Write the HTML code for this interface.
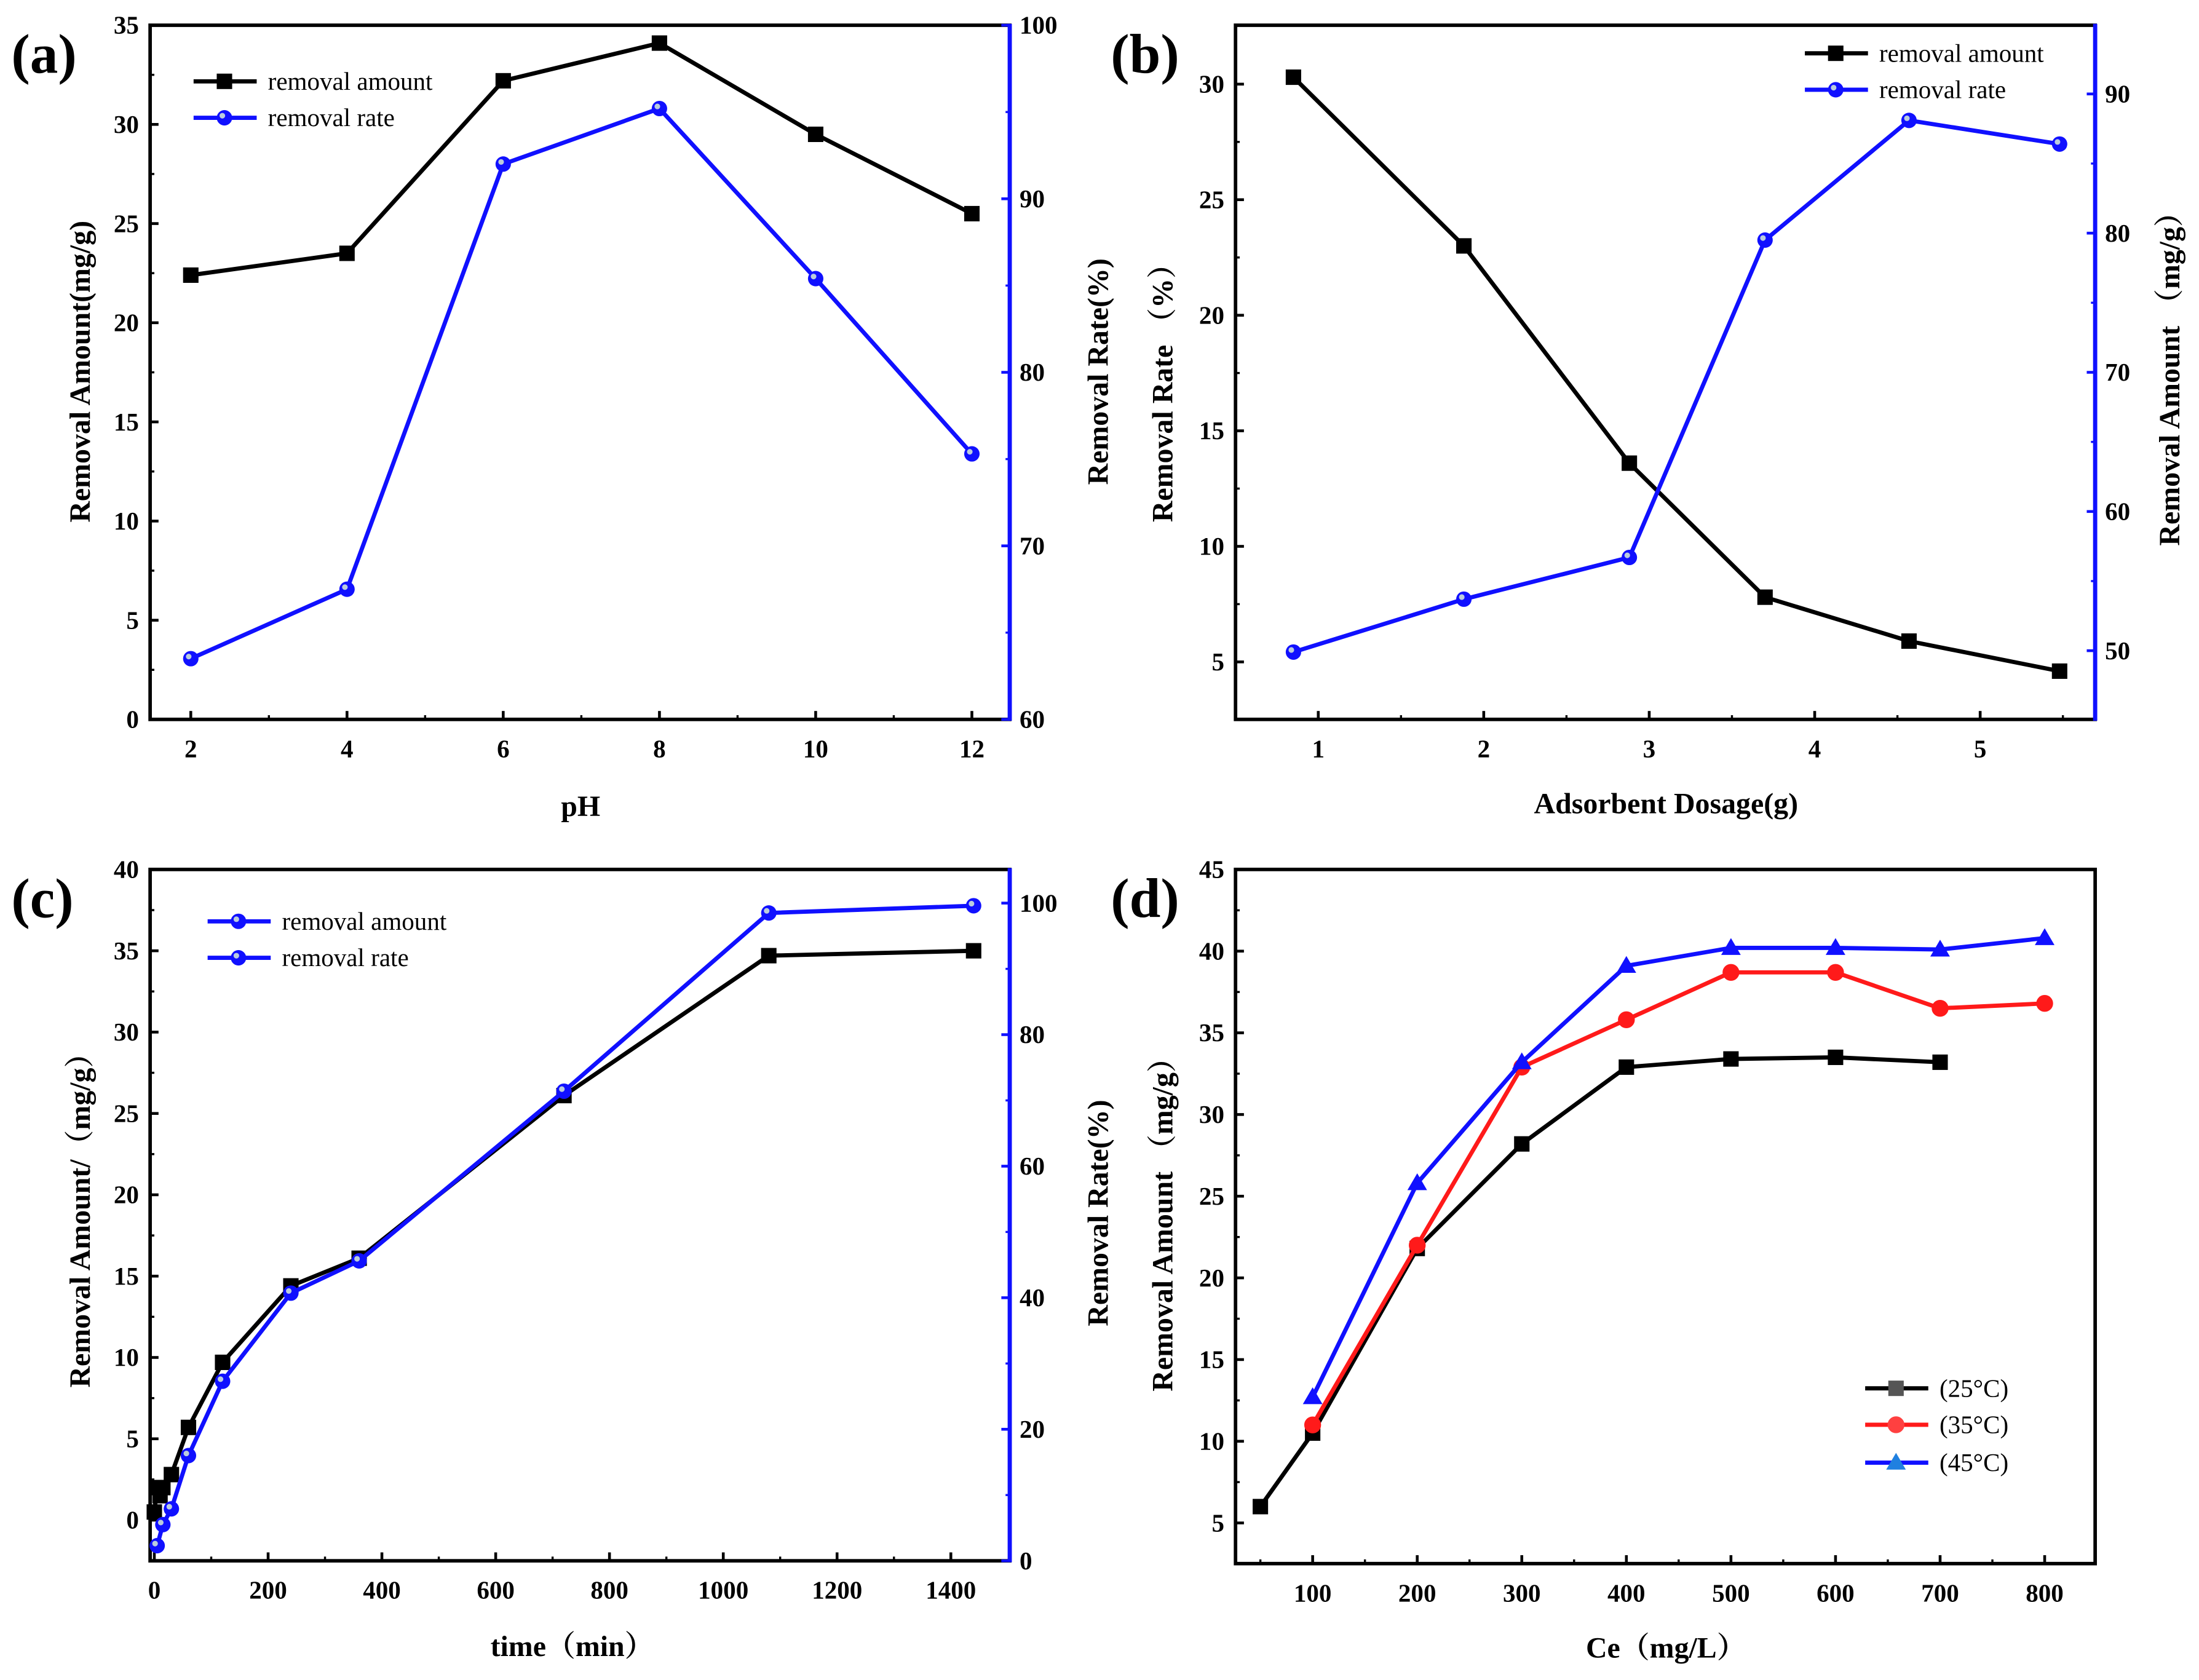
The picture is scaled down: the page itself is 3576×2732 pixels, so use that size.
<!DOCTYPE html>
<html><head><meta charset="utf-8"><style>
html,body{margin:0;padding:0;background:#fff;}
svg{display:block;font-family:"Liberation Serif","Noto Serif CJK SC",serif;}
</style></head><body>
<svg id="fig" xmlns="http://www.w3.org/2000/svg" width="3576" height="2732" viewBox="0 0 1568 1198"></svg>
<script>
// ---- Panel (a) data ----
const aX = [2,4,6,8,10,12];
const aAmount = [22.4,23.5,32.2,34.1,29.5,25.5];
const aRate = [63.5,67.5,92,95.2,85.4,75.3];
const aXTicks = [2,4,6,8,10,12];
const aYTicks = [0,5,10,15,20,25,30,35];
const aY2Ticks = [60,70,80,90,100];
// ---- Panel (b) data ----
const bX = [0.85,1.88,2.88,3.7,4.57,5.48];
const bAmount = [30.3,23,13.6,7.8,5.9,4.6];
const bRate = [49.9,53.7,56.7,79.5,88.1,86.4];
const bXTicks = [1,2,3,4,5];
const bYTicks = [5,10,15,20,25,30];
const bY2Ticks = [50,60,70,80,90];
// ---- Panel (c) data ----
const cXAmt = [0,5,10,15,30,60,120,240,360,720,1080,1440];
const cAmount = [0.5,2,1.5,2,2.8,5.7,9.7,14.4,16.1,26.1,34.7,35];
const cXRate = [5,15,30,60,120,240,360,720,1080,1440];
const cRate = [2.3,5.5,7.9,16,27.3,40.7,45.6,71.4,98.5,99.6];
const cXTicks = [0,200,400,600,800,1000,1200,1400];
const cYTicks = [0,5,10,15,20,25,30,35,40];
const cY2Ticks = [0,20,40,60,80,100];
// ---- Panel (d) data ----
const dX25 = [50,100,200,300,400,500,600,700];
const d25 = [6,10.5,21.8,28.2,32.9,33.4,33.5,33.2];
const dX35 = [100,200,300,400,500,600,700,800];
const d35 = [11,22,32.9,35.8,38.7,38.7,36.5,36.8];
const dX45 = [100,200,300,400,500,600,700,800];
const d45 = [12.7,25.8,33.2,39.1,40.2,40.2,40.1,40.8];
const dXTicks = [100,200,300,400,500,600,700,800];
const dYTicks = [5,10,15,20,25,30,35,40,45];

const svg = document.getElementById('fig');
const NS = 'http://www.w3.org/2000/svg';
function mk(tag, at, parent){const e=document.createElementNS(NS,tag);for(const k in at)e.setAttribute(k,at[k]);(parent||svg).appendChild(e);return e;}
function lin(d0,d1,p0,p1){return v=>p0+(v-d0)*(p1-p0)/(d1-d0);}

function frame(L,T,R,B,rightBlue){
  let e=mk('rect',{x:L,y:T,width:R-L,height:B-T,fill:'none',stroke:'#000','stroke-width':2.5});
  
  
  if(rightBlue){
    e=mk('line',{x1:R,y1:T-1,x2:R,y2:B+1,stroke:'#1010ff','stroke-width':3});
    
    
  }
}
function xTicks(ticks,sx,B,minorStep,L,R){
  ticks.forEach(t=>{
    let e=mk('line',{x1:sx(t),y1:B,x2:sx(t),y2:B-6,stroke:'#000','stroke-width':2});
    
    
    e=mk('text',{x:sx(t),y:B+27,'text-anchor':'middle','font-size':18,'font-weight':'bold'});
    e.textContent=t;
    
    
    const mx=sx(t+minorStep);
    if(minorStep && mx>L+3 && mx<R-3){
      e=mk('line',{x1:mx,y1:B,x2:mx,y2:B-3,stroke:'#000','stroke-width':1.5});
      
      
    }
  });
}
function yTicks(ticks,sy,L,side,color,minorStep){
  const dir=side==='left'?1:-1;
  ticks.forEach((t,i)=>{
    let e=mk('line',{x1:L,y1:sy(t),x2:L+dir*6,y2:sy(t),stroke:color,'stroke-width':2});
    
    
    e=mk('text',{x:side==='left'?L-8:L+7,y:sy(t)+6,'text-anchor':side==='left'?'end':'start','font-size':18,'font-weight':'bold'});
    e.textContent=t;
    
    
    if(minorStep && i<ticks.length-1){
      e=mk('line',{x1:L,y1:sy(t+minorStep),x2:L+dir*3,y2:sy(t+minorStep),stroke:color,'stroke-width':1.5});
      
      
    }
  });
}
function title(x,y,txt,rot,size){
  const e=mk('text',{x:x,y:y,'text-anchor':'middle','font-size':size||21,'font-weight':'bold',transform:rot?`rotate(-90 ${x} ${y})`:''});
  e.textContent=txt;
  
  
}
function panelLabel(x,y,t){
  const e=mk('text',{x:x,y:y,'font-size':40,'font-weight':'bold'});
  e.textContent=t;
  
  
}
function marker(x,y,type,color,parent){
  let e;
  if(type==='sq') e=mk('rect',{x:x-5.5,y:y-5.5,width:11,height:11,fill:color},parent);
  else if(type==='circ') e=mk('circle',{cx:x,cy:y,r:5.5,fill:color,stroke:color},parent);
  else if(type==='ball'){e=mk('circle',{cx:x,cy:y,r:5.5,fill:color},parent);mk('circle',{cx:x-1.5,cy:y-1.5,r:2,fill:'#bcd'},parent);}
  else e=mk('polygon',{points:`${x},${y-7} ${x-7},${y+5} ${x+7},${y+5}`,fill:color},parent);
  return e;
}
function series(xs,ys,sx,sy,color,type,name){
  const g=mk('g',{});
  
  
  const pts=xs.map((x,i)=>sx(x)+','+sy(ys[i])).join(' ');
  mk('polyline',{points:pts,fill:'none',stroke:color,'stroke-width':3,'stroke-linejoin':'round'},g);
  xs.forEach((x,i)=>{
    const m=marker(sx(x),sy(ys[i]),type,color,g);
    
    
  });
}
function legend(x,y,color,type,txt,mcolor){
  const g=mk('g',{});
  
  
  mk('line',{x1:x,y1:y,x2:x+45,y2:y,stroke:color,'stroke-width':3},g);
  marker(x+22,y,type,mcolor||color,g);
  const t=mk('text',{x:x+53,y:y+6,'font-size':18},g);
  t.textContent=txt;
}

// ===== Panel (a) =====
{
  const L=107,T=18,R=720,B=513;
  const sx=lin(2,12,136,693), sy=lin(0,35,513,18), sy2=lin(60,100,513,18);
  frame(L,T,R,B,true);
  xTicks(aXTicks,sx,B,1,L,R);
  yTicks(aYTicks,sy,L,'left','#000',2.5);
  yTicks(aY2Ticks,sy2,R,'right','#1010ff',5);
  series(aX,aAmount,sx,sy,'#000','sq','series-removal-amount-a');
  series(aX,aRate,sx,sy2,'#1010ff','ball','series-removal-rate-a');
  legend(138,58,'#000','sq','removal amount');
  legend(138,84,'#1010ff','ball','removal rate');
  title(414,582,'pH',false);
  title(64,265,'Removal Amount(mg/g)',true);
  title(790,265,'Removal Rate(%)',true);
  panelLabel(8,52,'(a)');
}
// ===== Panel (b) =====
{
  const L=881,T=18,R=1494,B=513;
  const sx=lin(1,5,940,1412), sy=lin(5,30,472,60), sy2=lin(50,90,464,67);
  frame(L,T,R,B,true);
  xTicks(bXTicks,sx,B,0.5,L,R);
  yTicks(bYTicks,sy,L,'left','#000',2.5);
  yTicks(bY2Ticks,sy2,R,'right','#1010ff',5);
  series(bX,bAmount,sx,sy,'#000','sq','series-removal-amount-b');
  series(bX,bRate,sx,sy2,'#1010ff','ball','series-removal-rate-b');
  legend(1287,38,'#000','sq','removal amount');
  legend(1287,64,'#1010ff','ball','removal rate');
  title(1188,580,'Adsorbent Dosage(g)',false);
  title(836,275,'Removal  Rate （%）',true);
  title(1554,265,'Removal Amount （mg/g）',true);
  panelLabel(792,52,'(b)');
}
// ===== Panel (c) =====
{
  const L=107,T=620,R=720,B=1113;
  const sx=lin(0,1400,110,678), sy=lin(0,40,1084,620), sy2=lin(0,100,1113,644);
  frame(L,T,R,B,true);
  xTicks(cXTicks,sx,B,100,L,R);
  yTicks(cYTicks,sy,L,'left','#000',2.5);
  yTicks(cY2Ticks,sy2,R,'right','#1010ff',10);
  series(cXAmt,cAmount,sx,sy,'#000','sq','series-removal-amount-c');
  series(cXRate,cRate,sx,sy2,'#1010ff','ball','series-removal-rate-c');
  legend(148,657,'#1010ff','ball','removal amount');
  legend(148,683,'#1010ff','ball','removal rate');
  title(408,1181,'time（min）',false);
  title(64,865,'Removal Amount/（mg/g）',true);
  title(790,865,'Removal Rate(%)',true);
  panelLabel(8,654,'(c)');
}
// ===== Panel (d) =====
{
  const L=881,T=620,R=1494,B=1115;
  const sx=lin(100,800,936,1458), sy=lin(5,45,1086,620);
  frame(L,T,R,B,false);
  xTicks(dXTicks,sx,B,50,L,R);
  let e=mk('line',{x1:sx(50),y1:B,x2:sx(50),y2:B-3,stroke:'#000','stroke-width':1.5});
  
  
  yTicks(dYTicks,sy,L,'left','#000',2.5);
  series(dX25,d25,sx,sy,'#000','sq','series-25c');
  series(dX35,d35,sx,sy,'#ff1a1a','circ','series-35c');
  series(dX45,d45,sx,sy,'#1010ff','tri','series-45c');
  legend(1330,990,'#000','sq','(25°C)','#555');
  legend(1330,1016,'#ff1a1a','circ','(35°C)','#ff4040');
  legend(1330,1043,'#1010ff','tri','(45°C)','#2080e0');
  title(1188,1182,'Ce（mg/L）',false);
  title(836,868,'Removal Amount （mg/g）',true);
  panelLabel(792,654,'(d)');
}
</script>
</body></html>
